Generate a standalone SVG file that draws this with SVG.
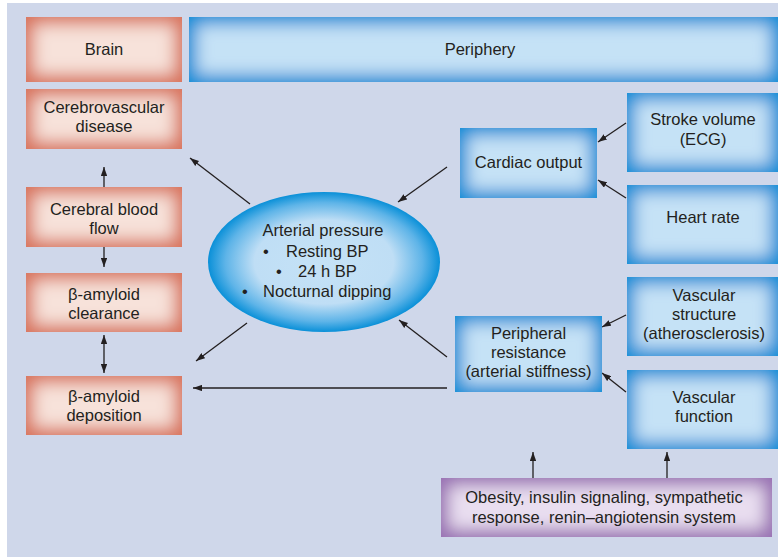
<svg xmlns="http://www.w3.org/2000/svg" width="778" height="557" viewBox="0 0 778 557">
<defs>
<style>
.t{font-family:"Liberation Sans",Arial,Helvetica,sans-serif;font-size:16.5px;fill:#231f20;text-anchor:middle}
.tl{font-family:"Liberation Sans",Arial,Helvetica,sans-serif;font-size:16.5px;fill:#231f20}
.sal{fill:#d9765f;filter:url(#gSal)}
.blu{fill:#0a90d8;filter:url(#gBlu)}
.pur{fill:#9a72b4;filter:url(#gPur)}
.c{stroke:#231f20;stroke-width:1.3;fill:none;marker-end:url(#ah)}
</style>
<filter id="gSal" x="0" y="0" width="1" height="1">
<feMorphology in="SourceAlpha" operator="erode" radius="8" result="e"/>
<feGaussianBlur in="e" stdDeviation="8" result="b"/>
<feFlood flood-color="#f7e2da"/>
<feComposite in2="b" operator="in" result="l"/>
<feComposite in="l" in2="SourceAlpha" operator="in" result="lc"/>
<feMerge><feMergeNode in="SourceGraphic"/><feMergeNode in="lc"/></feMerge>
</filter>
<filter id="gBlu" x="0" y="0" width="1" height="1">
<feMorphology in="SourceAlpha" operator="erode" radius="8" result="e"/>
<feGaussianBlur in="e" stdDeviation="8" result="b"/>
<feFlood flood-color="#c5e2f6"/>
<feComposite in2="b" operator="in" result="l"/>
<feComposite in="l" in2="SourceAlpha" operator="in" result="lc"/>
<feMerge><feMergeNode in="SourceGraphic"/><feMergeNode in="lc"/></feMerge>
</filter>
<filter id="gPur" x="0" y="0" width="1" height="1">
<feMorphology in="SourceAlpha" operator="erode" radius="8" result="e"/>
<feGaussianBlur in="e" stdDeviation="8" result="b"/>
<feFlood flood-color="#e9def0"/>
<feComposite in2="b" operator="in" result="l"/>
<feComposite in="l" in2="SourceAlpha" operator="in" result="lc"/>
<feMerge><feMergeNode in="SourceGraphic"/><feMergeNode in="lc"/></feMerge>
</filter>
<radialGradient id="ell" cx="0.5" cy="0.5" r="0.5">
<stop offset="0" stop-color="#c5e2f6"/>
<stop offset="0.6" stop-color="#bfdef5"/>
<stop offset="0.85" stop-color="#5eb4e8"/>
<stop offset="1" stop-color="#0a90d8"/>
</radialGradient>
<marker id="ah" viewBox="0 0 10 7" refX="10" refY="3.5" markerWidth="9" markerHeight="6.5" markerUnits="userSpaceOnUse" orient="auto-start-reverse">
<path d="M0,0 L10,3.5 L0,7 z" fill="#231f20"/>
</marker>
</defs>
<rect width="778" height="557" fill="#ffffff"/>
<rect x="7" y="3" width="771" height="554" fill="#cfd7ea"/>

<g id="connectors">
<line class="c" x1="104" y1="187" x2="104" y2="167"/>
<line class="c" x1="104" y1="247" x2="104" y2="267"/>
<line class="c" x1="104" y1="335" x2="104" y2="373" style="marker-start:url(#ah)"/>
<line class="c" x1="250" y1="204" x2="190" y2="158"/>
<line class="c" x1="247" y1="323" x2="196" y2="361"/>
<line class="c" x1="447" y1="388" x2="193" y2="388"/>
<line class="c" x1="447" y1="167" x2="398" y2="202"/>
<line class="c" x1="447" y1="357" x2="399" y2="320"/>
<line class="c" x1="626" y1="123" x2="598" y2="142"/>
<line class="c" x1="626" y1="198" x2="598" y2="180"/>
<line class="c" x1="626" y1="315" x2="602" y2="327"/>
<line class="c" x1="626" y1="392" x2="602" y2="373"/>
<line class="c" x1="533" y1="478" x2="533" y2="452"/>
<line class="c" x1="667" y1="478" x2="667" y2="452"/>
</g>

<g id="brain">
<rect class="sal" x="26" y="17" width="156" height="65"/>
<text class="t" x="104" y="55">Brain</text>
</g>
<g id="periphery">
<rect class="blu" x="189" y="17" width="589" height="65"/>
<text class="t" x="480" y="55">Periphery</text>
</g>
<g id="cerebrovascular">
<rect class="sal" x="26" y="89" width="156" height="60"/>
<text class="t" x="104" y="113">Cerebrovascular</text>
<text class="t" x="104" y="132">disease</text>
</g>
<g id="cbf">
<rect class="sal" x="26" y="187" width="156" height="60"/>
<text class="t" x="104" y="215">Cerebral blood</text>
<text class="t" x="104" y="234">flow</text>
</g>
<g id="clearance">
<rect class="sal" x="26" y="273" width="156" height="59"/>
<text class="t" x="104" y="300">β-amyloid</text>
<text class="t" x="104" y="319">clearance</text>
</g>
<g id="deposition">
<rect class="sal" x="26" y="376" width="156" height="59"/>
<text class="t" x="104" y="402">β-amyloid</text>
<text class="t" x="104" y="421">deposition</text>
</g>
<g id="arterial">
<ellipse cx="324" cy="262" rx="116" ry="70" fill="url(#ell)"/>
<text class="t" x="323" y="236">Arterial pressure</text>
<text class="tl" x="263" y="257">•</text>
<text class="tl" x="286" y="257">Resting BP</text>
<text class="tl" x="276" y="277">•</text>
<text class="tl" x="298" y="277">24 h BP</text>
<text class="tl" x="242" y="297">•</text>
<text class="tl" x="263" y="297">Nocturnal dipping</text>
</g>
<g id="cardiac">
<rect class="blu" x="460" y="128" width="137" height="70"/>
<text class="t" x="528.5" y="168">Cardiac output</text>
</g>
<g id="stroke">
<rect class="blu" x="627" y="93" width="151" height="79"/>
<text class="t" x="703" y="125">Stroke volume</text>
<text class="t" x="703" y="145">(ECG)</text>
</g>
<g id="heartrate">
<rect class="blu" x="627" y="185" width="151" height="79"/>
<text class="t" x="703" y="223">Heart rate</text>
</g>
<g id="peripheral">
<rect class="blu" x="455" y="316" width="147" height="76"/>
<text class="t" x="528.5" y="339">Peripheral</text>
<text class="t" x="528.5" y="358">resistance</text>
<text class="t" x="528.5" y="377">(arterial stiffness)</text>
</g>
<g id="vstructure">
<rect class="blu" x="627" y="277" width="151" height="79"/>
<text class="t" x="704" y="301">Vascular</text>
<text class="t" x="704" y="320">structure</text>
<text class="t" x="704" y="339">(atherosclerosis)</text>
</g>
<g id="vfunction">
<rect class="blu" x="627" y="370" width="151" height="79"/>
<text class="t" x="704" y="403">Vascular</text>
<text class="t" x="704" y="422">function</text>
</g>
<g id="factors">
<rect class="pur" x="441" y="478" width="331" height="59"/>
<text class="t" x="604" y="503">Obesity, insulin signaling, sympathetic</text>
<text class="t" x="604" y="523">response, renin–angiotensin system</text>
</g>
</svg>
